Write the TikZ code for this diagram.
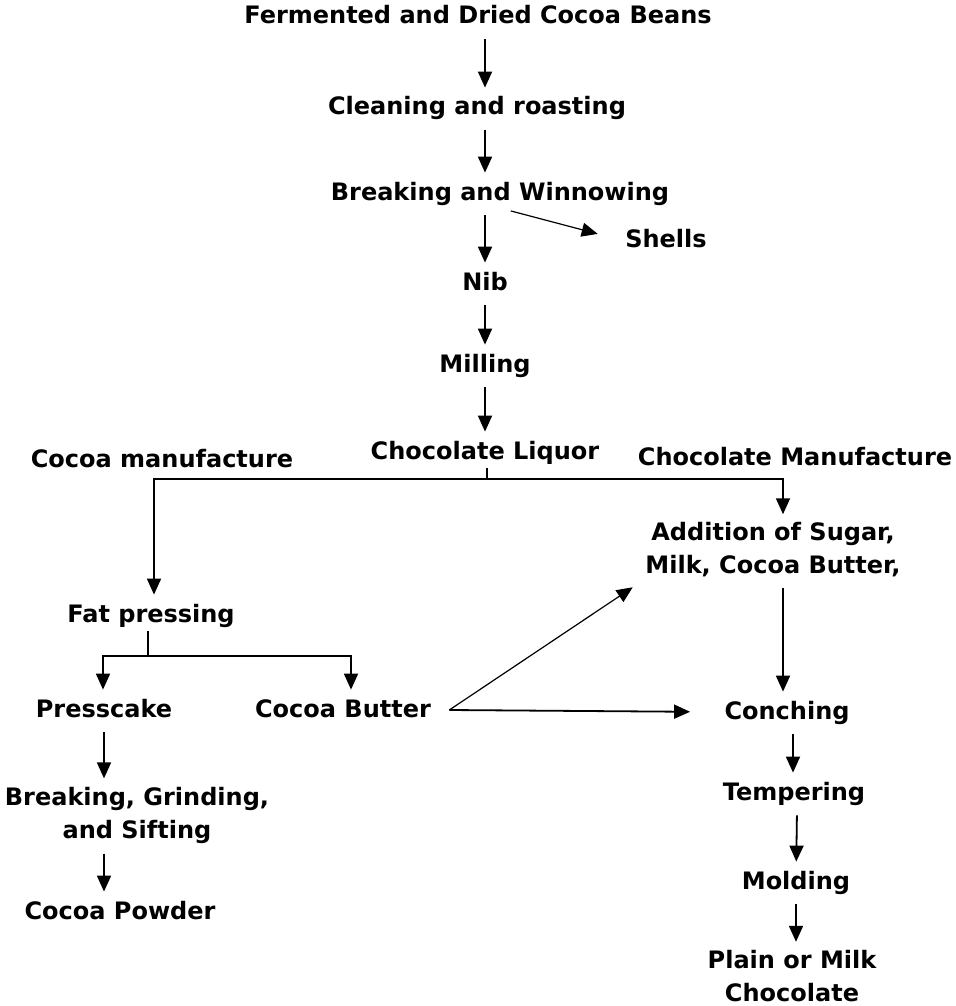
\documentclass[tikz,border=0pt]{standalone}
\usepackage{fontspec}
\setmainfont{DejaVu Sans}
\usetikzlibrary{arrows.meta}
\tikzset{
    label box/.style={font=\bfseries\fontsize{12}{16.5}\selectfont, align=center, inner sep=2pt},
    stage/.style={label box, text height=9.5pt, text depth=2.5pt},
    stack/.style={label box},
    flow/.style={-{Triangle[length=8pt,width=7pt]}, line width=0.9pt, shorten <=3pt, shorten >=2pt},
    side/.style={flow, line width=0.6pt}
}

\begin{document}
\begin{tikzpicture}[x=0.5pt,y=-0.5pt]
    \useasboundingbox (0,0) rectangle (956,1006);
    \node[stage] (beans) at (478,17) {Fermented and Dried Cocoa Beans};
    \node[stage] (clean) at (477,108) {Cleaning and roasting};
    \node[stage] (break) at (500,193) {Breaking and Winnowing};
    \node[stage] (shells) at (666,240) {Shells};
    \node[stage] (nib) at (485,283) {Nib};
    \node[stage] (mill) at (485,365) {Milling};
    \node[stage] (liquor) at (485,452) {Chocolate Liquor};
    \node[stage] (cocoaman) at (162,460) {Cocoa manufacture};
    \node[stage] (chocman) at (795,458) {Chocolate Manufacture};
    \node[stack] (addition) at (773,550) {Addition of Sugar,\\Milk, Cocoa Butter,};
    \node[stage] (fat) at (151,615) {Fat pressing};
    \node[stage] (press) at (104,710) {Presscake};
    \node[stage] (butter) at (343,710) {Cocoa Butter};
    \node[stack] (bgs) at (137,815) {Breaking, Grinding,\\and Sifting};
    \node[stage] (powder) at (120,912) {Cocoa Powder};
    \node[stage] (conch) at (787,712) {Conching};
    \node[stage] (temper) at (794,793) {Tempering};
    \node[stage] (mold) at (796,882) {Molding};
    \node[stack] (plain) at (792,976) {Plain or Milk\\Chocolate};

    \coordinate (split) at (487,479);
    \coordinate (fork) at (148,656);

    \draw[flow] ([xshift=3.5pt]beans.south) -- ([xshift=4pt]clean.north);
    \draw[flow] ([xshift=4pt]clean.south) -- (nib |- break.north);
    \draw[flow] (nib |- break.south) -- (nib);
    \draw[side, shorten >=12pt] ([xshift=2.5pt]break.south) -- (shells.west);
    \draw[flow] (nib) -- (mill);
    \draw[flow] (mill) -- (liquor);
    \draw[line width=0.9pt] ([xshift=1pt]liquor.south) -- (split);
    \draw[flow, shorten <=0pt] (split) -| ([xshift=1.5pt]fat.north);
    \draw[flow, shorten <=0pt] (split) -| ([xshift=5pt]addition.north);
    \draw[line width=0.9pt] ([xshift=-1.5pt]fat.south) -- (fork);
    \draw[flow, shorten <=0pt] (fork) -| ([xshift=-0.5pt]press.north);
    \draw[flow, shorten <=0pt] (fork) -| ([xshift=4pt]butter.north);
    \draw[flow] (press) -- (press |- bgs.north);
    \draw[flow] (press |- bgs.south) -- (press |- powder.north);
    \draw[side, shorten <=0pt, shorten >=5pt] ([xshift=7pt]butter.east) -- (addition.south west);
    \draw[flow, shorten <=0pt, shorten >=15pt] ([xshift=7pt]butter.east) -- (conch.west);
    \draw[flow] ([xshift=5pt]addition.south) -- ([xshift=-2pt]conch.north);
    \draw[flow] ([xshift=3pt]conch.south) -- ([xshift=-0.5pt]temper.north);
    \draw[flow] ([xshift=1.5pt]temper.south) -- (mold);
    \draw[flow] (mold) -- (mold |- plain.north);
\end{tikzpicture}
\end{document}
